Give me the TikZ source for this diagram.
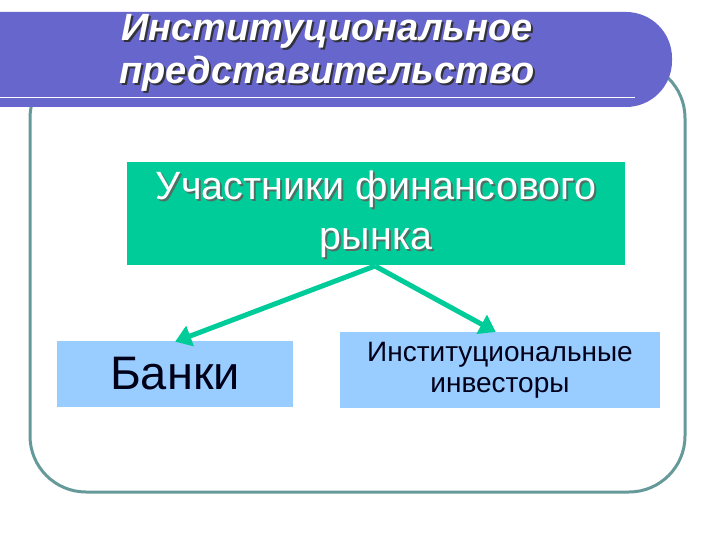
\documentclass[tikz,border=0pt]{standalone}
\usepackage{fontspec}
\setmainfont{Liberation Sans}
\usetikzlibrary{arrows.meta}
\definecolor{bandc}{RGB}{102,102,204}
\definecolor{framec}{RGB}{102,153,153}
\definecolor{greenc}{RGB}{0,204,153}
\definecolor{bluec}{RGB}{153,204,255}
\definecolor{shadowc}{RGB}{50,50,60}
\definecolor{softshadow}{RGB}{80,110,100}
\newcommand{\shadtxt}[3]{\makebox[0pt][l]{\kern#1\raisebox{-#1}{\textcolor{#2}{#3}}}#3}
\tikzset{
  titletext/.style={text=white, font=\fontsize{38}{43}\selectfont\bfseries\itshape, align=center, inner sep=0pt},
  maintext/.style={text=white, font=\fontsize{39.5}{50}\selectfont, align=center, inner sep=0pt},
  leafbox/.style={fill=bluec, draw=none, text=black!90!blue},
  conn/.style={greenc, line width=5pt, -{Triangle[length=16pt,width=21pt]}, shorten >=-2pt},
}
\begin{document}
\begin{tikzpicture}[x=1pt,y=-1pt]
\useasboundingbox (0,0) rectangle (720,540);
% frame
\draw[framec, line width=3pt, rounded corners=56pt] (30,62) rectangle (685,492);
% title band
\fill[bandc] (0,107) -- (0,12) [rounded corners=46pt] -- (672,12) -- (672,107) [sharp corners] -- (600,107) -- (0,107) -- cycle;
\draw[white, line width=1.5pt] (0,97.5) -- (635,97.5);
\node[titletext] (title) at (327,54) {\shadtxt{2pt}{shadowc}{Институциональное}\\\shadtxt{2pt}{shadowc}{представительство}};
% main box
\node[fill=greenc, minimum width=498pt, minimum height=103pt, inner sep=0pt] (top) at (376,213.5) {};
\node[maintext] (toptext) at (376,215) {\shadtxt{2pt}{softshadow}{Участники финансового}\\\shadtxt{2pt}{softshadow}{рынка}};
% leaves
\node[leafbox, minimum width=236pt, minimum height=66pt, inner sep=0pt, font=\fontsize{47}{50}\selectfont] (bank) at (175,374) {Банки};
\node[leafbox, minimum width=320pt, minimum height=76pt, inner sep=0pt, align=center, font=\fontsize{28}{31}\selectfont] (inv) at (500,370) {Институциональные\\инвесторы};
% arrows
\coordinate (apex) at (375,266);
\coordinate (tipL) at (177,341);
\coordinate (tipR) at (494,331);
\draw[conn] (apex) -- (tipL);
\draw[conn] (apex) -- (tipR);
\end{tikzpicture}
\end{document}
